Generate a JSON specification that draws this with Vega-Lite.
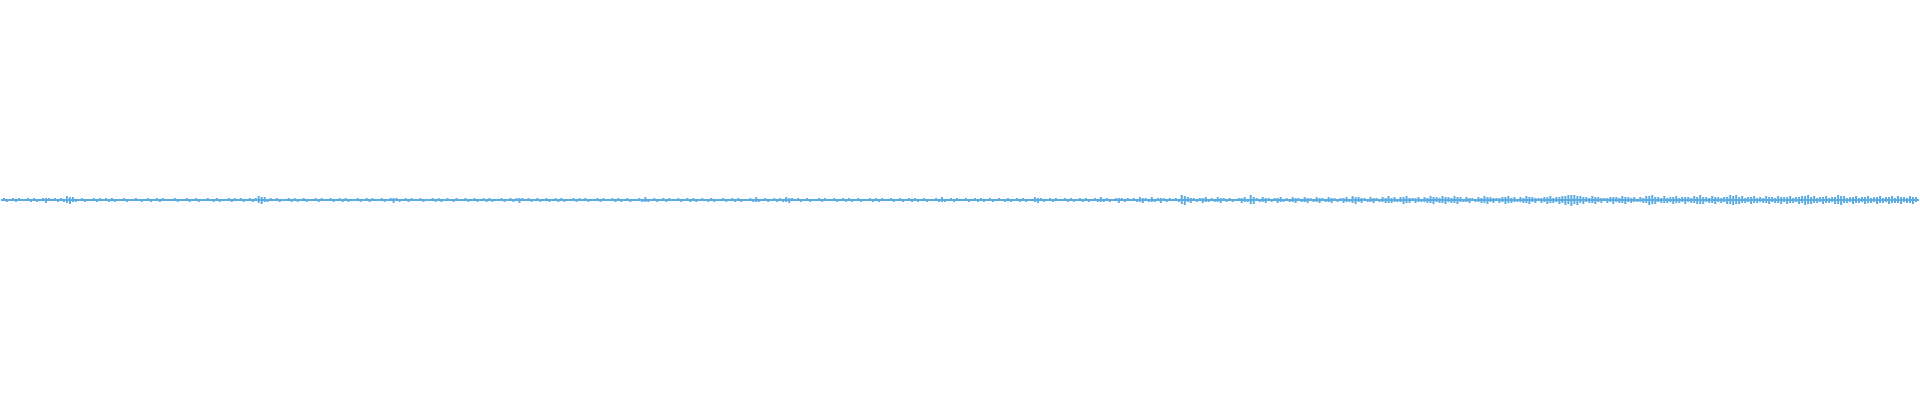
{
"$schema": "https://vega.github.io/schema/vega-lite/v6.json",
"width": 1920, "height": 400,
"autosize": {"type": "fit", "contains": "padding"},
"padding": 0,
"background": "#ffffff",
"config": {"view": {"stroke": null}},
"layer": [
{
"data": {"values": [{"base": 0}]},
"mark": {"type": "rule", "color": "#5DADE2", "strokeWidth": 1.8},
"encoding": {
  "y": {"field": "base", "type": "quantitative", "scale": {"domain": [-200, 200], "nice": false}, "axis": null}
}
},
{
"data": {"values": [
{"i":1,"lo":-1,"hi":2},{"i":2,"lo":-2,"hi":1},{"i":4,"lo":-1,"hi":2},{"i":5,"lo":-2,"hi":1},{"i":6,"lo":-1,"hi":2},{"i":9,"lo":-1,"hi":2},{"i":10,"lo":-2,"hi":1},{"i":11,"lo":-1,"hi":2},{"i":12,"lo":-2,"hi":1},{"i":14,"lo":-1,"hi":2},{"i":15,"lo":-3,"hi":2},{"i":16,"lo":-1,"hi":2},{"i":18,"lo":-1,"hi":2},{"i":19,"lo":-2,"hi":1},
{"i":20,"lo":-1,"hi":2},{"i":21,"lo":-2,"hi":1},{"i":22,"lo":-3,"hi":4},{"i":23,"lo":-4,"hi":3},{"i":24,"lo":-2,"hi":3},{"i":25,"lo":-2,"hi":1},{"i":27,"lo":-1,"hi":2},{"i":28,"lo":-2,"hi":1},{"i":31,"lo":-1,"hi":2},{"i":32,"lo":-2,"hi":1},{"i":33,"lo":-1,"hi":2},{"i":35,"lo":-1,"hi":2},{"i":36,"lo":-2,"hi":1},{"i":37,"lo":-1,"hi":2},{"i":38,"lo":-2,"hi":1},
{"i":41,"lo":-1,"hi":2},{"i":42,"lo":-2,"hi":1},{"i":45,"lo":-1,"hi":2},{"i":47,"lo":-2,"hi":1},{"i":49,"lo":-1,"hi":2},{"i":50,"lo":-2,"hi":1},{"i":52,"lo":-1,"hi":2},{"i":53,"lo":-2,"hi":1},{"i":54,"lo":-1,"hi":2},{"i":58,"lo":-1,"hi":2},{"i":59,"lo":-2,"hi":1},
{"i":62,"lo":-1,"hi":2},{"i":63,"lo":-2,"hi":1},{"i":65,"lo":-1,"hi":2},{"i":66,"lo":-2,"hi":1},{"i":69,"lo":-1,"hi":2},{"i":71,"lo":-2,"hi":1},{"i":72,"lo":-1,"hi":2},{"i":73,"lo":-2,"hi":1},{"i":76,"lo":-1,"hi":2},{"i":77,"lo":-2,"hi":1},{"i":78,"lo":-1,"hi":2},
{"i":80,"lo":-1,"hi":2},{"i":81,"lo":-2,"hi":1},{"i":83,"lo":-1,"hi":2},{"i":84,"lo":-2,"hi":1},{"i":85,"lo":-1,"hi":2},{"i":86,"lo":-3,"hi":4},{"i":87,"lo":-4,"hi":3},{"i":88,"lo":-2,"hi":3},{"i":89,"lo":-2,"hi":1},{"i":90,"lo":-1,"hi":2},{"i":92,"lo":-1,"hi":2},{"i":93,"lo":-2,"hi":1},{"i":96,"lo":-1,"hi":2},{"i":97,"lo":-2,"hi":1},{"i":98,"lo":-1,"hi":2},{"i":99,"lo":-2,"hi":1},
{"i":101,"lo":-1,"hi":2},{"i":102,"lo":-2,"hi":1},{"i":105,"lo":-1,"hi":2},{"i":106,"lo":-2,"hi":1},{"i":107,"lo":-1,"hi":2},{"i":110,"lo":-1,"hi":2},{"i":111,"lo":-2,"hi":1},{"i":113,"lo":-1,"hi":2},{"i":114,"lo":-2,"hi":1},{"i":115,"lo":-1,"hi":2},{"i":116,"lo":-2,"hi":1},{"i":119,"lo":-1,"hi":2},
{"i":120,"lo":-2,"hi":1},{"i":122,"lo":-1,"hi":2},{"i":123,"lo":-2,"hi":1},{"i":124,"lo":-1,"hi":2},{"i":127,"lo":-1,"hi":2},{"i":128,"lo":-2,"hi":1},{"i":130,"lo":-1,"hi":2},{"i":131,"lo":-3,"hi":2},{"i":132,"lo":-1,"hi":2},{"i":133,"lo":-2,"hi":1},{"i":135,"lo":-1,"hi":2},{"i":136,"lo":-2,"hi":1},{"i":137,"lo":-1,"hi":2},
{"i":140,"lo":-1,"hi":2},{"i":141,"lo":-2,"hi":1},{"i":144,"lo":-1,"hi":2},{"i":145,"lo":-2,"hi":1},{"i":146,"lo":-1,"hi":2},{"i":147,"lo":-2,"hi":1},{"i":149,"lo":-1,"hi":2},{"i":151,"lo":-2,"hi":1},{"i":152,"lo":-1,"hi":2},{"i":155,"lo":-1,"hi":2},{"i":156,"lo":-2,"hi":1},{"i":158,"lo":-1,"hi":2},{"i":159,"lo":-2,"hi":1},
{"i":161,"lo":-1,"hi":2},{"i":162,"lo":-2,"hi":1},{"i":163,"lo":-1,"hi":2},{"i":164,"lo":-2,"hi":1},{"i":167,"lo":-1,"hi":2},{"i":168,"lo":-2,"hi":1},{"i":170,"lo":-1,"hi":2},{"i":171,"lo":-2,"hi":1},{"i":172,"lo":-1,"hi":2},{"i":173,"lo":-3,"hi":2},{"i":174,"lo":-1,"hi":2},{"i":176,"lo":-1,"hi":2},{"i":177,"lo":-2,"hi":1},{"i":179,"lo":-1,"hi":2},
{"i":180,"lo":-2,"hi":1},{"i":182,"lo":-1,"hi":2},{"i":183,"lo":-2,"hi":1},{"i":185,"lo":-1,"hi":2},{"i":186,"lo":-2,"hi":1},{"i":187,"lo":-1,"hi":2},{"i":188,"lo":-2,"hi":1},{"i":191,"lo":-1,"hi":2},{"i":192,"lo":-2,"hi":1},{"i":193,"lo":-1,"hi":2},{"i":195,"lo":-1,"hi":2},{"i":196,"lo":-2,"hi":1},{"i":199,"lo":-1,"hi":2},
{"i":200,"lo":-2,"hi":1},{"i":201,"lo":-1,"hi":2},{"i":204,"lo":-1,"hi":2},{"i":205,"lo":-2,"hi":1},{"i":206,"lo":-1,"hi":2},{"i":207,"lo":-2,"hi":1},{"i":209,"lo":-1,"hi":2},{"i":210,"lo":-2,"hi":1},{"i":213,"lo":-1,"hi":2},{"i":214,"lo":-2,"hi":1},{"i":215,"lo":-2,"hi":3},{"i":216,"lo":-2,"hi":1},{"i":218,"lo":-1,"hi":2},{"i":219,"lo":-2,"hi":1},
{"i":221,"lo":-1,"hi":2},{"i":222,"lo":-2,"hi":1},{"i":223,"lo":-1,"hi":2},{"i":226,"lo":-1,"hi":2},{"i":227,"lo":-2,"hi":1},{"i":229,"lo":-1,"hi":2},{"i":230,"lo":-2,"hi":1},{"i":231,"lo":-1,"hi":2},{"i":232,"lo":-2,"hi":1},{"i":234,"lo":-1,"hi":2},{"i":236,"lo":-2,"hi":1},{"i":237,"lo":-1,"hi":2},{"i":238,"lo":-2,"hi":1},
{"i":241,"lo":-1,"hi":2},{"i":242,"lo":-2,"hi":1},{"i":244,"lo":-1,"hi":2},{"i":245,"lo":-2,"hi":1},{"i":246,"lo":-1,"hi":2},{"i":247,"lo":-2,"hi":1},{"i":250,"lo":-1,"hi":2},{"i":251,"lo":-2,"hi":1},{"i":252,"lo":-2,"hi":3},{"i":253,"lo":-2,"hi":1},{"i":255,"lo":-1,"hi":2},{"i":256,"lo":-2,"hi":1},{"i":258,"lo":-1,"hi":2},{"i":259,"lo":-2,"hi":1},
{"i":260,"lo":-1,"hi":2},{"i":261,"lo":-2,"hi":1},{"i":262,"lo":-2,"hi":3},{"i":263,"lo":-3,"hi":2},{"i":264,"lo":-1,"hi":2},{"i":266,"lo":-1,"hi":2},{"i":267,"lo":-2,"hi":1},{"i":269,"lo":-1,"hi":2},{"i":270,"lo":-2,"hi":1},{"i":273,"lo":-1,"hi":2},{"i":274,"lo":-2,"hi":1},{"i":275,"lo":-1,"hi":2},{"i":278,"lo":-1,"hi":2},{"i":279,"lo":-2,"hi":1},
{"i":281,"lo":-1,"hi":2},{"i":282,"lo":-2,"hi":1},{"i":283,"lo":-1,"hi":2},{"i":284,"lo":-2,"hi":1},{"i":286,"lo":-1,"hi":2},{"i":287,"lo":-2,"hi":1},{"i":290,"lo":-1,"hi":2},{"i":291,"lo":-2,"hi":1},{"i":292,"lo":-1,"hi":2},{"i":293,"lo":-2,"hi":1},{"i":294,"lo":-1,"hi":2},{"i":297,"lo":-1,"hi":2},{"i":298,"lo":-2,"hi":1},
{"i":300,"lo":-1,"hi":2},{"i":301,"lo":-2,"hi":1},{"i":303,"lo":-1,"hi":2},{"i":304,"lo":-2,"hi":1},{"i":305,"lo":-1,"hi":2},{"i":306,"lo":-2,"hi":1},{"i":308,"lo":-1,"hi":2},{"i":309,"lo":-2,"hi":1},{"i":312,"lo":-1,"hi":2},{"i":313,"lo":-2,"hi":1},{"i":314,"lo":-2,"hi":3},{"i":315,"lo":-2,"hi":1},{"i":317,"lo":-1,"hi":2},{"i":318,"lo":-2,"hi":1},{"i":319,"lo":-1,"hi":2},
{"i":322,"lo":-1,"hi":2},{"i":323,"lo":-2,"hi":1},{"i":325,"lo":-1,"hi":2},{"i":326,"lo":-2,"hi":1},{"i":327,"lo":-1,"hi":2},{"i":328,"lo":-2,"hi":1},{"i":330,"lo":-1,"hi":2},{"i":331,"lo":-2,"hi":1},{"i":333,"lo":-1,"hi":2},{"i":335,"lo":-2,"hi":1},{"i":336,"lo":-1,"hi":2},{"i":337,"lo":-2,"hi":1},{"i":339,"lo":-1,"hi":2},
{"i":340,"lo":-2,"hi":1},{"i":341,"lo":-1,"hi":2},{"i":342,"lo":-2,"hi":1},{"i":345,"lo":-2,"hi":3},{"i":346,"lo":-3,"hi":2},{"i":347,"lo":-1,"hi":2},{"i":348,"lo":-2,"hi":1},{"i":350,"lo":-1,"hi":2},{"i":351,"lo":-2,"hi":1},{"i":352,"lo":-1,"hi":2},{"i":355,"lo":-1,"hi":2},{"i":356,"lo":-2,"hi":1},{"i":357,"lo":-1,"hi":2},{"i":358,"lo":-2,"hi":1},
{"i":360,"lo":-1,"hi":2},{"i":361,"lo":-2,"hi":1},{"i":362,"lo":-1,"hi":2},{"i":363,"lo":-2,"hi":1},{"i":365,"lo":-1,"hi":2},{"i":366,"lo":-2,"hi":1},{"i":367,"lo":-2,"hi":3},{"i":368,"lo":-2,"hi":1},{"i":369,"lo":-1,"hi":2},{"i":370,"lo":-2,"hi":1},{"i":372,"lo":-1,"hi":2},{"i":373,"lo":-3,"hi":2},{"i":374,"lo":-1,"hi":2},{"i":375,"lo":-2,"hi":1},{"i":376,"lo":-1,"hi":2},{"i":378,"lo":-1,"hi":2},{"i":379,"lo":-2,"hi":1},
{"i":380,"lo":-2,"hi":3},{"i":381,"lo":-3,"hi":2},{"i":382,"lo":-1,"hi":2},{"i":383,"lo":-2,"hi":1},{"i":384,"lo":-2,"hi":3},{"i":385,"lo":-2,"hi":1},{"i":386,"lo":-1,"hi":2},{"i":387,"lo":-3,"hi":2},{"i":388,"lo":-1,"hi":2},{"i":389,"lo":-2,"hi":1},{"i":390,"lo":-1,"hi":2},{"i":392,"lo":-1,"hi":2},{"i":393,"lo":-2,"hi":1},{"i":394,"lo":-4,"hi":5},{"i":395,"lo":-5,"hi":4},{"i":396,"lo":-2,"hi":3},{"i":397,"lo":-3,"hi":2},{"i":398,"lo":-1,"hi":2},{"i":399,"lo":-2,"hi":1},
{"i":400,"lo":-1,"hi":2},{"i":401,"lo":-3,"hi":2},{"i":402,"lo":-2,"hi":3},{"i":403,"lo":-2,"hi":1},{"i":404,"lo":-1,"hi":2},{"i":405,"lo":-2,"hi":1},{"i":406,"lo":-2,"hi":3},{"i":407,"lo":-3,"hi":2},{"i":408,"lo":-1,"hi":2},{"i":409,"lo":-2,"hi":1},{"i":410,"lo":-1,"hi":2},{"i":411,"lo":-2,"hi":1},{"i":413,"lo":-1,"hi":2},{"i":414,"lo":-3,"hi":2},{"i":415,"lo":-2,"hi":3},{"i":416,"lo":-2,"hi":1},{"i":417,"lo":-4,"hi":5},{"i":418,"lo":-4,"hi":3},{"i":419,"lo":-1,"hi":2},
{"i":420,"lo":-2,"hi":1},{"i":421,"lo":-2,"hi":3},{"i":422,"lo":-3,"hi":2},{"i":423,"lo":-1,"hi":2},{"i":424,"lo":-2,"hi":1},{"i":425,"lo":-1,"hi":2},{"i":426,"lo":-3,"hi":2},{"i":427,"lo":-2,"hi":3},{"i":428,"lo":-2,"hi":1},{"i":429,"lo":-1,"hi":2},{"i":430,"lo":-2,"hi":1},{"i":431,"lo":-2,"hi":3},{"i":432,"lo":-3,"hi":2},{"i":433,"lo":-1,"hi":2},{"i":434,"lo":-2,"hi":1},{"i":435,"lo":-2,"hi":3},{"i":436,"lo":-3,"hi":2},{"i":437,"lo":-1,"hi":2},{"i":438,"lo":-2,"hi":1},{"i":439,"lo":-2,"hi":3},
{"i":440,"lo":-3,"hi":2},{"i":441,"lo":-1,"hi":2},{"i":442,"lo":-2,"hi":1},{"i":443,"lo":-2,"hi":3},{"i":444,"lo":-3,"hi":2},{"i":445,"lo":-1,"hi":2},{"i":446,"lo":-2,"hi":1},{"i":447,"lo":-1,"hi":2},{"i":448,"lo":-3,"hi":2},{"i":449,"lo":-2,"hi":3},{"i":450,"lo":-2,"hi":1},{"i":451,"lo":-3,"hi":4},{"i":452,"lo":-4,"hi":3},{"i":453,"lo":-2,"hi":3},{"i":454,"lo":-3,"hi":2},{"i":455,"lo":-1,"hi":2},{"i":456,"lo":-2,"hi":1},{"i":457,"lo":-2,"hi":3},{"i":458,"lo":-3,"hi":2},{"i":459,"lo":-1,"hi":2},
{"i":460,"lo":-2,"hi":1},{"i":461,"lo":-2,"hi":3},{"i":462,"lo":-3,"hi":2},{"i":463,"lo":-3,"hi":4},{"i":464,"lo":-3,"hi":2},{"i":465,"lo":-2,"hi":3},{"i":466,"lo":-2,"hi":1},{"i":467,"lo":-2,"hi":3},{"i":468,"lo":-4,"hi":3},{"i":469,"lo":-3,"hi":4},{"i":470,"lo":-3,"hi":2},{"i":471,"lo":-1,"hi":2},{"i":472,"lo":-3,"hi":2},{"i":473,"lo":-2,"hi":3},{"i":474,"lo":-2,"hi":1},{"i":475,"lo":-2,"hi":3},{"i":476,"lo":-3,"hi":2},{"i":477,"lo":-3,"hi":4},{"i":478,"lo":-4,"hi":3},{"i":479,"lo":-2,"hi":3},
{"i":480,"lo":-3,"hi":2},{"i":481,"lo":-3,"hi":4},{"i":482,"lo":-4,"hi":3},{"i":483,"lo":-2,"hi":3},{"i":484,"lo":-3,"hi":2},{"i":485,"lo":-3,"hi":4},{"i":486,"lo":-4,"hi":3},{"i":487,"lo":-2,"hi":3},{"i":488,"lo":-2,"hi":1},{"i":489,"lo":-2,"hi":3},{"i":490,"lo":-3,"hi":2},{"i":491,"lo":-1,"hi":2},{"i":492,"lo":-2,"hi":1},{"i":493,"lo":-2,"hi":3},{"i":494,"lo":-3,"hi":2},{"i":495,"lo":-3,"hi":4},{"i":496,"lo":-4,"hi":3},{"i":497,"lo":-2,"hi":3},{"i":498,"lo":-3,"hi":2},{"i":499,"lo":-1,"hi":2},
{"i":500,"lo":-3,"hi":2},{"i":501,"lo":-2,"hi":3},{"i":502,"lo":-4,"hi":3},{"i":503,"lo":-3,"hi":4},{"i":504,"lo":-3,"hi":2},{"i":505,"lo":-2,"hi":3},{"i":506,"lo":-2,"hi":1},{"i":507,"lo":-2,"hi":3},{"i":508,"lo":-3,"hi":2},{"i":509,"lo":-3,"hi":4},{"i":510,"lo":-4,"hi":3},{"i":511,"lo":-2,"hi":3},{"i":512,"lo":-3,"hi":2},{"i":513,"lo":-1,"hi":2},{"i":514,"lo":-3,"hi":2},{"i":515,"lo":-2,"hi":3},{"i":516,"lo":-4,"hi":3},{"i":517,"lo":-3,"hi":4},{"i":518,"lo":-3,"hi":2},{"i":519,"lo":-2,"hi":3},
{"i":520,"lo":-4,"hi":3},{"i":521,"lo":-3,"hi":4},{"i":522,"lo":-5,"hi":4},{"i":523,"lo":-4,"hi":5},{"i":524,"lo":-6,"hi":5},{"i":525,"lo":-4,"hi":5},{"i":526,"lo":-5,"hi":4},{"i":527,"lo":-3,"hi":4},{"i":528,"lo":-4,"hi":3},{"i":529,"lo":-2,"hi":3},{"i":530,"lo":-3,"hi":2},{"i":531,"lo":-3,"hi":4},{"i":532,"lo":-4,"hi":3},{"i":533,"lo":-2,"hi":3},{"i":534,"lo":-3,"hi":2},{"i":535,"lo":-1,"hi":2},{"i":536,"lo":-3,"hi":2},{"i":537,"lo":-2,"hi":3},{"i":538,"lo":-4,"hi":3},{"i":539,"lo":-2,"hi":3},
{"i":540,"lo":-3,"hi":2},{"i":541,"lo":-3,"hi":4},{"i":542,"lo":-4,"hi":3},{"i":543,"lo":-2,"hi":3},{"i":544,"lo":-3,"hi":2},{"i":545,"lo":-2,"hi":3},{"i":546,"lo":-2,"hi":1},{"i":547,"lo":-2,"hi":3},{"i":548,"lo":-3,"hi":2},{"i":549,"lo":-3,"hi":4},{"i":550,"lo":-5,"hi":4},{"i":551,"lo":-4,"hi":5},{"i":552,"lo":-4,"hi":3},{"i":553,"lo":-2,"hi":3},{"i":554,"lo":-3,"hi":2},{"i":555,"lo":-3,"hi":4},{"i":556,"lo":-3,"hi":2},{"i":557,"lo":-2,"hi":3},{"i":558,"lo":-4,"hi":3},{"i":559,"lo":-3,"hi":4},
{"i":560,"lo":-3,"hi":2},{"i":561,"lo":-2,"hi":3},{"i":562,"lo":-4,"hi":3},{"i":563,"lo":-2,"hi":3},{"i":564,"lo":-3,"hi":2},{"i":565,"lo":-3,"hi":4},{"i":566,"lo":-4,"hi":3},{"i":567,"lo":-4,"hi":5},{"i":568,"lo":-4,"hi":3},{"i":569,"lo":-2,"hi":3},{"i":570,"lo":-3,"hi":2},{"i":571,"lo":-3,"hi":4},{"i":572,"lo":-4,"hi":3},{"i":573,"lo":-2,"hi":3},{"i":574,"lo":-3,"hi":2},{"i":575,"lo":-2,"hi":3},{"i":576,"lo":-4,"hi":3},{"i":577,"lo":-4,"hi":5},{"i":578,"lo":-5,"hi":4},{"i":579,"lo":-4,"hi":5},
{"i":580,"lo":-4,"hi":3},{"i":581,"lo":-3,"hi":4},{"i":582,"lo":-3,"hi":2},{"i":583,"lo":-2,"hi":3},{"i":584,"lo":-4,"hi":3},{"i":585,"lo":-3,"hi":4},{"i":586,"lo":-3,"hi":2},{"i":587,"lo":-2,"hi":3},{"i":588,"lo":-3,"hi":2},{"i":589,"lo":-3,"hi":4},{"i":590,"lo":-4,"hi":3},{"i":591,"lo":-2,"hi":3},{"i":592,"lo":-3,"hi":2},{"i":593,"lo":-3,"hi":4},{"i":594,"lo":-4,"hi":3},{"i":595,"lo":-2,"hi":3},{"i":596,"lo":-4,"hi":3},{"i":597,"lo":-3,"hi":4},{"i":598,"lo":-3,"hi":2},{"i":599,"lo":-2,"hi":3},
{"i":600,"lo":-4,"hi":3},{"i":601,"lo":-3,"hi":4},{"i":602,"lo":-5,"hi":4},{"i":603,"lo":-4,"hi":5},{"i":604,"lo":-4,"hi":3},{"i":605,"lo":-3,"hi":4},{"i":606,"lo":-3,"hi":2},{"i":607,"lo":-2,"hi":3},{"i":608,"lo":-4,"hi":3},{"i":609,"lo":-3,"hi":4},{"i":610,"lo":-3,"hi":2},{"i":611,"lo":-2,"hi":3},{"i":612,"lo":-4,"hi":3},{"i":613,"lo":-4,"hi":5},{"i":614,"lo":-5,"hi":4},{"i":615,"lo":-3,"hi":4},{"i":616,"lo":-3,"hi":2},{"i":617,"lo":-2,"hi":3},{"i":618,"lo":-4,"hi":3},{"i":619,"lo":-3,"hi":4},
{"i":620,"lo":-3,"hi":2},{"i":621,"lo":-2,"hi":3},{"i":622,"lo":-4,"hi":3},{"i":623,"lo":-3,"hi":4},{"i":624,"lo":-3,"hi":2},{"i":625,"lo":-2,"hi":3},{"i":626,"lo":-4,"hi":3},{"i":627,"lo":-3,"hi":4},{"i":628,"lo":-3,"hi":2},{"i":629,"lo":-2,"hi":3},{"i":630,"lo":-4,"hi":3},{"i":631,"lo":-3,"hi":4},{"i":632,"lo":-3,"hi":2},{"i":633,"lo":-3,"hi":4},{"i":634,"lo":-4,"hi":3},{"i":635,"lo":-2,"hi":3},{"i":636,"lo":-3,"hi":2},{"i":637,"lo":-3,"hi":4},{"i":638,"lo":-4,"hi":3},{"i":639,"lo":-2,"hi":3}
]},
"mark": {"type": "rule", "color": "#5DADE2", "strokeWidth": 2},
"encoding": {
  "x": {"field": "i", "type": "quantitative", "scale": {"domain": [0, 640], "nice": false, "zero": false}, "axis": null},
  "y": {"field": "lo", "type": "quantitative", "scale": {"domain": [-200, 200], "nice": false}, "axis": null},
  "y2": {"field": "hi"}
}
}
]
}
